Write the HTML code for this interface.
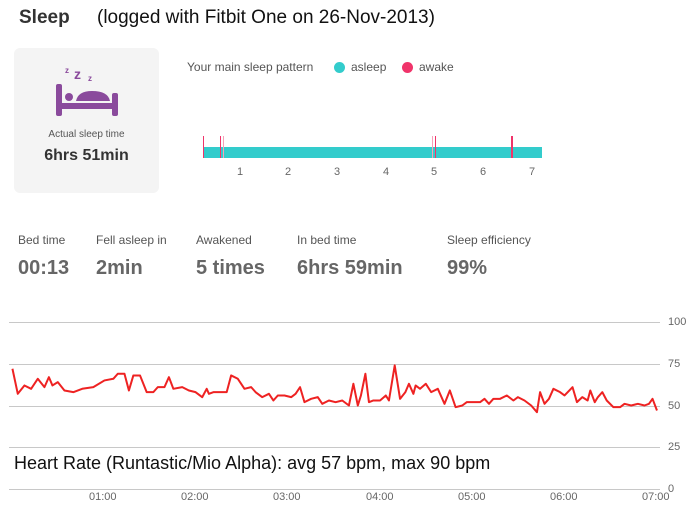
<!DOCTYPE html>
<html><head><meta charset="utf-8"><style>
body{margin:0;width:695px;height:513px;background:#fff;font-family:"Liberation Sans",Arial,sans-serif;position:relative;overflow:hidden}
.a{position:absolute;white-space:nowrap}
.lbl{font-size:12px;color:#555;top:233px}
.val{font-size:20px;font-weight:bold;color:#666;top:257px}
.tk{font-size:11px;color:#666;top:166px}
.ax{font-size:11px;color:#666}
</style></head><body>
<div class="a" style="left:19px;top:7px;font-size:19px;font-weight:bold;color:#333">Sleep</div>
<div class="a" style="left:97px;top:7px;font-size:19px;color:#111">(logged with Fitbit One on 26-Nov-2013)</div>
<div class="a" style="left:14px;top:48px;width:145px;height:145px;background:#f4f4f4;border-radius:6px"></div>
<svg class="a" style="left:50px;top:60px" width="75" height="60" viewBox="0 0 75 60">
<text x="15" y="13" font-size="8" font-weight="bold" fill="#8a4a9c" font-family="Liberation Sans">z</text>
<text x="24" y="19" font-size="14" font-weight="bold" fill="#8a4a9c" font-family="Liberation Sans">z</text>
<text x="38" y="21" font-size="8" font-weight="bold" fill="#8a4a9c" font-family="Liberation Sans">z</text>
<rect x="6" y="24" width="6" height="32" rx="2" fill="#8a4a9c"/>
<rect x="62" y="33" width="6" height="23" rx="2" fill="#8a4a9c"/>
<rect x="6" y="43" width="62" height="6" fill="#8a4a9c"/>
<circle cx="19" cy="37" r="4" fill="#8a4a9c"/>
<path d="M26 41 Q28 31 42 31 Q58 31 60 41 Z" fill="#8a4a9c"/>
</svg>
<div class="a" style="left:14px;width:145px;text-align:center;top:129px;font-size:10px;color:#555">Actual sleep time</div>
<div class="a" style="left:14px;width:145px;text-align:center;top:147px;font-size:16px;font-weight:bold;color:#333">6hrs 51min</div>
<div class="a" style="left:187px;top:60px;font-size:12px;color:#555">Your main sleep pattern</div>
<div class="a" style="left:334px;top:62px;width:11px;height:11px;border-radius:50%;background:#33cccc"></div>
<div class="a" style="left:351px;top:60px;font-size:12px;color:#555">asleep</div>
<div class="a" style="left:402px;top:62px;width:11px;height:11px;border-radius:50%;background:#f0346a"></div>
<div class="a" style="left:419px;top:60px;font-size:12px;color:#555">awake</div>
<div class="a" style="left:203px;top:147px;width:339px;height:11px;background:#33cccc"></div>
<div class="a" style="left:203px;top:136px;width:1px;height:22px;background:#f0346a"></div>
<div class="a" style="left:220px;top:136px;width:1px;height:22px;background:#f0346a"></div>
<div class="a" style="left:223px;top:136px;width:1px;height:22px;background:#f7a0b8"></div>
<div class="a" style="left:432px;top:136px;width:1px;height:22px;background:#f7a0b8"></div>
<div class="a" style="left:435px;top:136px;width:1px;height:22px;background:#f0346a"></div>
<div class="a" style="left:511px;top:136px;width:2px;height:22px;background:#f0346a"></div>
<div class="a tk" style="left:237px">1</div><div class="a tk" style="left:285px">2</div><div class="a tk" style="left:334px">3</div><div class="a tk" style="left:383px">4</div><div class="a tk" style="left:431px">5</div><div class="a tk" style="left:480px">6</div><div class="a tk" style="left:529px">7</div>
<div class="a lbl" style="left:18px">Bed time</div><div class="a val" style="left:18px">00:13</div>
<div class="a lbl" style="left:96px">Fell asleep in</div><div class="a val" style="left:96px">2min</div>
<div class="a lbl" style="left:196px">Awakened</div><div class="a val" style="left:196px">5 times</div>
<div class="a lbl" style="left:297px">In bed time</div><div class="a val" style="left:297px">6hrs 59min</div>
<div class="a lbl" style="left:447px">Sleep efficiency</div><div class="a val" style="left:447px">99%</div>
<svg class="a" style="left:0;top:0" width="695" height="513">
<g stroke="#c8c8c8" stroke-width="1">
<line x1="9" y1="322.5" x2="660" y2="322.5"/><line x1="9" y1="364.5" x2="660" y2="364.5"/><line x1="9" y1="406.5" x2="660" y2="406.5"/><line x1="9" y1="447.5" x2="660" y2="447.5"/><line x1="9" y1="489.5" x2="660" y2="489.5"/>
</g>
<g transform="translate(0,489) scale(0.4445,-1.67)">
<polyline vector-effect="non-scaling-stroke" fill="none" stroke="#ee2222" stroke-width="2" stroke-linejoin="round" points="28,72 40,57 55,62 70,60 85,66 100,61 110,67 118,62 130,64 145,59 165,58 185,60 210,61 235,65 255,66 265,69 280,69 290,59 300,68 315,68 330,58 345,58 355,61 370,61 380,67 390,60 410,61 425,59 440,58 455,55 465,60 470,57 480,58 495,58 510,58 520,68 535,66 550,60 565,61 575,58 590,55 605,57 615,53 625,56 640,56 655,55 665,57 675,61 685,52 700,54 715,55 725,51 740,53 755,52 770,53 785,50 795,63 805,50 812,56 822,69 830,52 840,53 855,53 868,56 875,53 888,74 900,54 912,58 920,63 930,57 935,62 945,60 958,63 970,58 985,60 1000,51 1012,59 1025,49 1040,50 1050,52 1080,52 1090,54 1100,51 1110,54 1125,54 1140,56 1155,53 1165,55 1180,53 1195,50 1208,46 1215,58 1225,51 1235,54 1245,60 1260,58 1270,56 1288,61 1298,52 1310,55 1322,53 1328,59 1338,52 1345,55 1355,58 1365,53 1380,49 1395,49 1405,51 1420,50 1435,51 1450,50 1460,51 1468,54 1478,47"/>
</g>
</svg>
<div class="a ax" style="left:668px;top:316px">100</div>
<div class="a ax" style="left:668px;top:358px">75</div>
<div class="a ax" style="left:668px;top:400px">50</div>
<div class="a ax" style="left:668px;top:441px">25</div>
<div class="a ax" style="left:668px;top:483px">0</div>
<div class="a ax" style="left:89px;top:491px">01:00</div>
<div class="a ax" style="left:181px;top:491px">02:00</div>
<div class="a ax" style="left:273px;top:491px">03:00</div>
<div class="a ax" style="left:366px;top:491px">04:00</div>
<div class="a ax" style="left:458px;top:491px">05:00</div>
<div class="a ax" style="left:550px;top:491px">06:00</div>
<div class="a ax" style="left:642px;top:491px">07:00</div>
<div class="a" style="left:14px;top:453px;font-size:18px;color:#111">Heart Rate (Runtastic/Mio Alpha): avg 57 bpm, max 90 bpm</div>
</body></html>
